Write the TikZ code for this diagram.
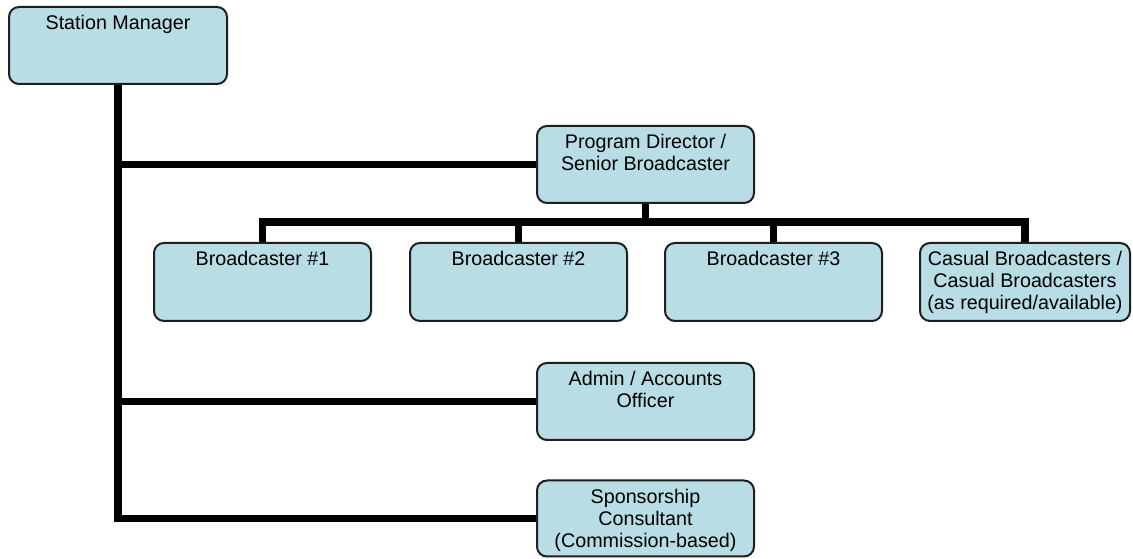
\documentclass[tikz,border=0pt]{standalone}
\usepackage{fontspec}
\setmainfont{Liberation Sans}
\definecolor{boxfill}{RGB}{184,221,229}
\definecolor{boxline}{RGB}{30,30,30}
\newcommand{\orgtext}[3]{\parbox[c][#2][t]{#1}{\centering\rule{0pt}{17pt}#3}}
\tikzset{
  orgbox/.style={draw=boxline, line width=1.5pt, fill=boxfill, rounded corners=7.5pt,
    inner sep=0pt, font=\fontsize{14.8pt}{16.5pt}\selectfont, text=black},
  conn/.style={line width=5.6pt, black, line join=miter}
}
\begin{document}
\begin{tikzpicture}[x=0.75pt,y=-0.75pt]
\useasboundingbox (0,0) rectangle (1133,559);
\node[orgbox] (sm) at (118,45.5) {\orgtext{163.5pt}{57.75pt}{Station Manager}};
\node[orgbox] (pd) at (645.5,164.5) {\orgtext{162.75pt}{57.75pt}{Program Director /\\Senior Broadcaster}};
\node[orgbox] (b1) at (262.5,282) {\orgtext{162.75pt}{58.5pt}{Broadcaster \#1}};
\node[orgbox] (b2) at (518.5,282) {\orgtext{162.75pt}{58.5pt}{Broadcaster \#2}};
\node[orgbox] (b3) at (773.5,282) {\orgtext{162.75pt}{58.5pt}{Broadcaster \#3}};
\node[orgbox] (cb) at (1025,282) {\orgtext{157.5pt}{58.5pt}{Casual Broadcasters /\\Casual Broadcasters\\(as required/available)}};
\node[orgbox] (ad) at (645.5,401.5) {\orgtext{162.75pt}{57.75pt}{Admin / Accounts\\Officer}};
\node[orgbox] (sp) at (645.5,518.5) {\orgtext{162.75pt}{57pt}{Sponsorship\\Consultant\\(Commission-based)}};
\coordinate (bus) at (645.5,222);
\draw[conn] (sm.south) |- (sp.west);
\draw[conn] (sm.south |- pd.west) -- (pd.west);
\draw[conn] (sm.south |- ad.west) -- (ad.west);
\draw[conn] (pd.south) -- (bus);
\draw[conn] (b1.north) |- (bus) -| (cb.north);
\draw[conn] (b2.north) -- (b2.north |- bus);
\draw[conn] (b3.north) -- (b3.north |- bus);
\end{tikzpicture}
\end{document}
